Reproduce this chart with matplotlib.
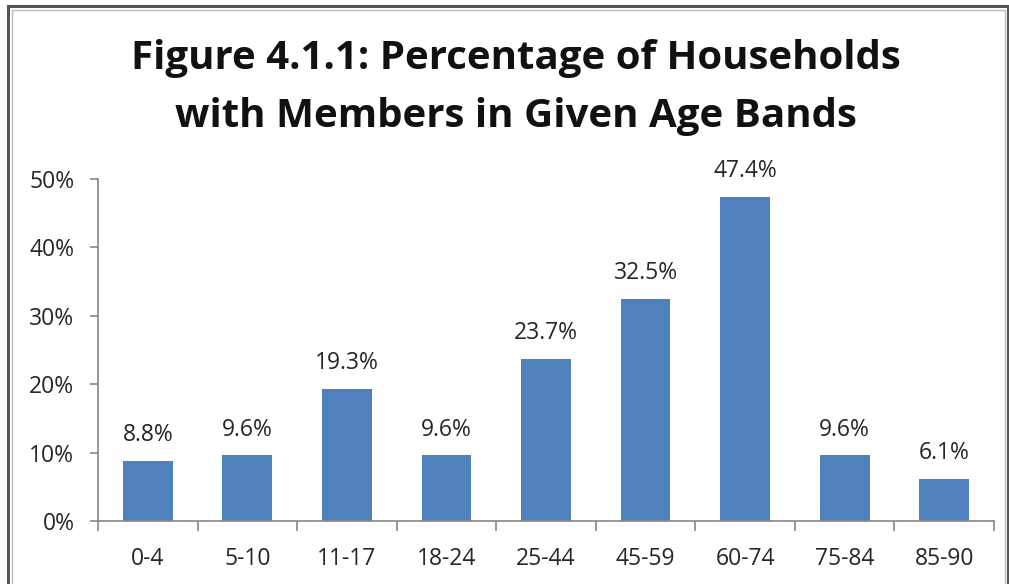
import matplotlib
matplotlib.use("Agg")
import matplotlib.pyplot as plt
from matplotlib.patches import Rectangle
from matplotlib.ticker import FuncFormatter, FixedLocator
import numpy as np

# age bands and share of households (%)
bands = ["0-4", "5-10", "11-17", "18-24", "25-44", "45-59", "60-74", "75-84", "85-90"]
pct = [8.8, 9.6, 19.3, 9.6, 23.7, 32.5, 47.4, 9.6, 6.1]
yticks = [0, 10, 20, 30, 40, 50]

plt.rcParams['font.family'] = ['Open Sans', 'DejaVu Sans']

fig = plt.figure(figsize=(10.09, 5.84), dpi=100)
ax = fig.add_axes([98/1009, 1 - 521/584, (994 - 98)/1009, (521 - 179)/584])

x = np.arange(len(bands))
ax.bar(x, pct, width=0.5, color="#4F81BD", zorder=2)
for xi, v in zip(x, pct):
    ax.text(xi, v + 2.9, f"{v:.1f}%", ha="center", va="baseline",
            fontsize=16.5, color="#262626")

ax.set_xlim(-0.5, len(bands) - 0.5)
ax.set_ylim(0, 50)
ax.set_yticks(yticks)
ax.yaxis.set_major_formatter(FuncFormatter(lambda v, p: f"{v:.0f}%"))
ax.set_xticks(x)
ax.set_xticklabels(bands)
ax.xaxis.set_minor_locator(FixedLocator(np.arange(-0.5, len(bands), 1.0)))

for s in ["top", "right"]:
    ax.spines[s].set_visible(False)
for s in ["left", "bottom"]:
    ax.spines[s].set_color("#868686")
    ax.spines[s].set_linewidth(1.2)

ax.tick_params(axis="y", length=6, color="#868686", width=1.2,
               labelsize=16.5, labelcolor="#262626", pad=11)
ax.tick_params(axis="x", which="major", length=0, labelsize=16.5, labelcolor="#262626", pad=19)
ax.tick_params(axis="x", which="minor", length=7, color="#868686", width=1.2)

# two-line title, placed by baseline
fig.text(516/1009, 1 - 69/584, "Figure 4.1.1: Percentage of Households",
         ha="center", va="baseline", fontsize=29, fontweight="bold", color="#111111")
fig.text(516/1009, 1 - 127/584, "with Members in Given Age Bands",
         ha="center", va="baseline", fontsize=29, fontweight="bold", color="#111111")

# outer frame of the chart area
fig.add_artist(Rectangle((8/1009, -0.05), 1000/1009, 1.05 - 6/584, transform=fig.transFigure,
                         fill=False, edgecolor="#555555", linewidth=2.2))
fig.add_artist(Rectangle((11.5/1009, -0.05), 993/1009, 1.05 - 9.5/584, transform=fig.transFigure,
                         fill=False, edgecolor="#bbbbbb", linewidth=1))

fig.savefig("out.png", dpi=100)
